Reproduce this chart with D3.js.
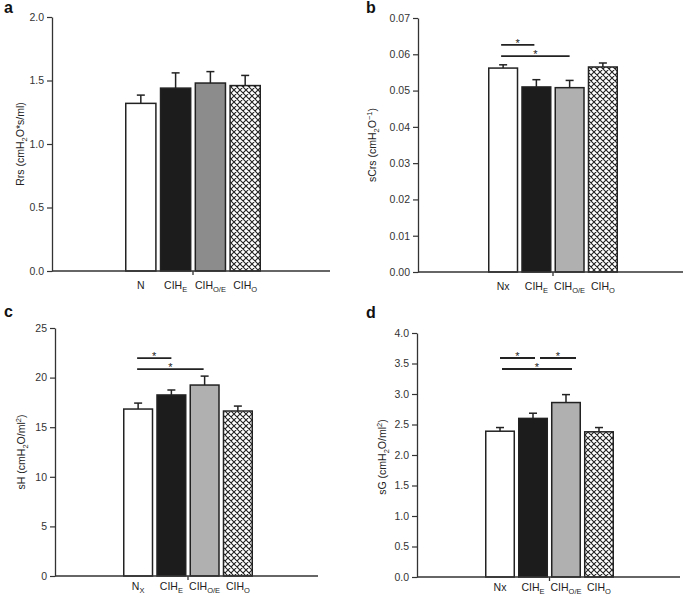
<!DOCTYPE html>
<html>
<head>
<meta charset="utf-8">
<script src="https://cdn.jsdelivr.net/npm/d3@7/dist/d3.min.js"></script>
<style>
  html, body { margin: 0; padding: 0; background: #fff; }
  svg { display: block; font-family: "Liberation Sans", Arial, Helvetica, sans-serif; }
</style>
</head>
<body>
<svg id="chart" width="685" height="598"></svg>
<script>
// ---------- data ----------
const groupsA = [["N", ""], ["CIH", "E"], ["CIH", "O/E"], ["CIH", "O"]];
const groupsB = [["Nx", ""], ["CIH", "E"], ["CIH", "O/E"], ["CIH", "O"]];
const groupsC = [["N", "X"], ["CIH", "E"], ["CIH", "O/E"], ["CIH", "O"]];
const groupsD = [["Nx", ""], ["CIH", "E"], ["CIH", "O/E"], ["CIH", "O"]];

const rrsMean = [1.32, 1.44, 1.48, 1.46];
const rrsErr  = [0.065, 0.12, 0.09, 0.08];
const scrsMean = [0.0562, 0.0510, 0.0508, 0.0565];
const scrsErr  = [0.0009, 0.0020, 0.0020, 0.0011];
const shMean = [16.83, 18.25, 19.25, 16.63];
const shErr  = [0.6, 0.5, 0.9, 0.5];
const sgMean = [2.39, 2.60, 2.86, 2.38];
const sgErr  = [0.06, 0.085, 0.13, 0.07];

const ticksA = [0, 0.5, 1.0, 1.5, 2.0];
const ticksB = [0, 0.01, 0.02, 0.03, 0.04, 0.05, 0.06, 0.07];
const ticksC = [0, 5, 10, 15, 20, 25];
const ticksD = [0, 0.5, 1.0, 1.5, 2.0, 2.5, 3.0, 3.5, 4.0];

// significance: [from group, to group, level]
const sigB = [[0, 1, 0.0626], [0, 2, 0.0595]];
const sigC = [[0, 1, 21.97], [0, 2, 20.86]];
const sigD = [[0, 1, 3.59], [1, 2, 3.59], [0, 2, 3.41]];

// ---------- drawing ----------
const svg = d3.select("#chart");

const defs = svg.append("defs");
const pat = defs.append("pattern").attr("id", "xhatch")
  .attr("patternUnits", "userSpaceOnUse").attr("width", 6).attr("height", 6);
pat.append("rect").attr("width", 6).attr("height", 6).attr("fill", "#fff");
pat.append("path").attr("d", "M-1,-1 L7,7 M-1,7 L7,-1 M5,-1 L7,1 M-1,5 L1,7")
  .attr("stroke", "#222").attr("stroke-width", 1.1).attr("fill", "none");

function panel(cfg) {
  const g = svg.append("g");
  const y = d3.scaleLinear().domain(cfg.domain).range([cfg.yBot, cfg.yTop]);
  const x = d3.scaleBand().domain(d3.range(cfg.groups.length))
    .range(cfg.barRange).paddingInner(0.09).paddingOuter(0);

  // panel letter
  g.append("text").attr("x", cfg.letterPos[0]).attr("y", cfg.letterPos[1])
    .attr("font-size", 16).attr("font-weight", "bold").attr("fill", "#111").text(cfg.letter);

  // bars
  const fills = cfg.fills;
  g.selectAll("rect.bar").data(cfg.mean).enter().append("rect")
    .attr("class", "bar")
    .attr("x", (d, i) => x(i) + 0.75)
    .attr("width", x.bandwidth() - 1.5)
    .attr("y", d => y(d))
    .attr("height", d => cfg.yBot - y(d))
    .attr("fill", (d, i) => fills[i])
    .attr("stroke", "#222").attr("stroke-width", 1.5);

  // error bars
  cfg.mean.forEach((m, i) => {
    const cx = x(i) + x.bandwidth() / 2;
    const top = y(m + cfg.err[i]);
    g.append("line").attr("x1", cx).attr("x2", cx).attr("y1", y(m)).attr("y2", top)
      .attr("stroke", "#222").attr("stroke-width", 1.5);
    g.append("line").attr("x1", cx - 4).attr("x2", cx + 4).attr("y1", top).attr("y2", top)
      .attr("stroke", "#222").attr("stroke-width", 1.5);
  });

  // y axis
  const yAxis = d3.axisLeft(y).tickValues(cfg.ticks).tickFormat(d3.format(cfg.fmt))
    .tickSize(5).tickPadding(3).tickSizeOuter(0);
  const ya = g.append("g").attr("transform", `translate(${cfg.x0},0)`).call(yAxis);
  ya.select(".domain").attr("stroke", "#333").attr("stroke-width", 1.3);
  ya.selectAll(".tick line").attr("stroke", "#333").attr("stroke-width", 1.2);
  ya.selectAll(".tick text").attr("font-size", 10.5).attr("fill", "#333")
    .attr("font-family", "'Liberation Sans', Arial, sans-serif");

  // x axis line
  g.append("line").attr("x1", cfg.x0).attr("x2", cfg.x1).attr("y1", cfg.yBot).attr("y2", cfg.yBot)
    .attr("stroke", "#333").attr("stroke-width", 1.3);
  const mid = (cfg.barRange[0] + cfg.barRange[1]) / 2;
  g.append("line").attr("x1", mid).attr("x2", mid).attr("y1", cfg.yBot).attr("y2", cfg.yBot + 4)
    .attr("stroke", "#333").attr("stroke-width", 1.3);

  // x labels
  cfg.groups.forEach((lab, i) => {
    const cx = x(i) + x.bandwidth() / 2;
    const t = g.append("text").attr("x", cx).attr("y", cfg.yBot + cfg.xlabDy)
      .attr("text-anchor", "middle").attr("font-size", 10.5).attr("fill", "#222");
    t.append("tspan").text(lab[0]);
    if (lab[1]) {
      t.append("tspan").attr("dy", 2.5).attr("font-size", 7.5).text(lab[1]);
    }
  });

  // y label
  const yl = g.append("text")
    .attr("transform", `translate(${cfg.ylabPos[0]},${cfg.ylabPos[1]}) rotate(-90)`)
    .attr("text-anchor", "middle").attr("font-size", 10.5).attr("fill", "#222");
  cfg.ylab.forEach(part => {
    const ts = yl.append("tspan").text(part[0]);
    if (part[1] === "sub") ts.attr("dy", 3).attr("font-size", 7.5);
    else if (part[1] === "sup") ts.attr("dy", -4).attr("font-size", 7.5);
    else if (part[1] === "back") ts.attr("dy", -3);
    else if (part[1] === "down") ts.attr("dy", 4);
  });

  // significance
  (cfg.sig || []).forEach((s, k) => {
    const off = cfg.sigOff[k];
    const xa = x(s[0]) + x.bandwidth() / 2 + off[0];
    const xb = x(s[1]) + x.bandwidth() / 2 + off[1];
    const yy = y(s[2]);
    g.append("line").attr("x1", xa).attr("x2", xb).attr("y1", yy).attr("y2", yy)
      .attr("stroke", "#222").attr("stroke-width", 1.8);
    g.append("text").attr("x", (xa + xb) / 2).attr("y", yy + 2)
      .attr("text-anchor", "middle").attr("font-size", 11).attr("fill", "#222").text("*");
  });
}

panel({
  letter: "a", letterPos: [4, 13],
  groups: groupsA, mean: rrsMean, err: rrsErr, domain: [0, 2.0], ticks: ticksA, fmt: ".1f",
  x0: 52, x1: 330, yTop: 17, yBot: 271, barRange: [125, 261], xlabDy: 18,
  fills: ["#ffffff", "#1c1c1c", "#8c8c8c", "url(#xhatch)"],
  ylab: [["Rrs (cmH"], ["2", "sub"], ["O*s/ml)", "back"]], ylabPos: [24, 144]
});

panel({
  letter: "b", letterPos: [366, 13],
  groups: groupsB, mean: scrsMean, err: scrsErr, domain: [0, 0.07], ticks: ticksB, fmt: ".2f",
  x0: 418, x1: 683, yTop: 18, yBot: 272, barRange: [488, 618], xlabDy: 18,
  fills: ["#ffffff", "#1c1c1c", "#b0b0b0", "url(#xhatch)"],
  ylab: [["sCrs (cmH"], ["2", "sub"], ["O", "back"], ["\u22121", "sup"], [")", "down"]], ylabPos: [376, 145],
  sig: sigB, sigOff: [[-2, -2], [-2, 0]]
});

panel({
  letter: "c", letterPos: [4, 317],
  groups: groupsC, mean: shMean, err: shErr, domain: [0, 25], ticks: ticksC, fmt: "d",
  x0: 55, x1: 318, yTop: 328, yBot: 576, barRange: [123, 253], xlabDy: 14,
  fills: ["#ffffff", "#1c1c1c", "#b0b0b0", "url(#xhatch)"],
  ylab: [["sH (cmH"], ["2", "sub"], ["O/ml", "back"], ["2", "sup"], [")", "down"]], ylabPos: [25, 452],
  sig: sigC, sigOff: [[-1, 0], [-1, -1]]
});

panel({
  letter: "d", letterPos: [366, 318],
  groups: groupsD, mean: sgMean, err: sgErr, domain: [0, 4.0], ticks: ticksD, fmt: ".1f",
  x0: 417, x1: 680, yTop: 333, yBot: 577, barRange: [485, 614], xlabDy: 14,
  fills: ["#ffffff", "#1c1c1c", "#b0b0b0", "url(#xhatch)"],
  ylab: [["sG (cmH"], ["2", "sub"], ["O/ml", "back"], ["2", "sup"], [")", "down"]], ylabPos: [386, 457],
  sig: sigD, sigOff: [[0, 2], [7, 10], [2, 6]]
});
</script>
</body>
</html>
